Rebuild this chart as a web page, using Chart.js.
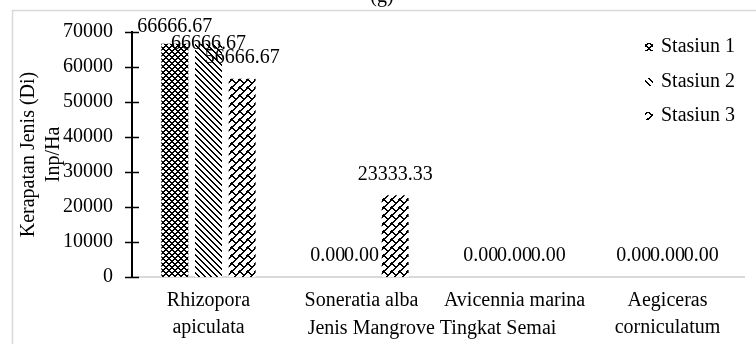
<!DOCTYPE html>
<html>
<head>
<meta charset="utf-8">
<script src="https://cdn.jsdelivr.net/npm/chart.js@4.4.1/dist/chart.umd.min.js"></script>
<style>
  html, body { margin: 0; padding: 0; background: #fff; }
</style>
</head>
<body>
<canvas id="chart_semai" width="756" height="344"></canvas>
<script>
// data
var categories = [['Rhizopora', 'apiculata'], 'Soneratia alba', 'Avicennia marina', ['Aegiceras', 'corniculatum']];
var seriesNames = ['Stasiun 1', 'Stasiun 2', 'Stasiun 3'];
var stasiun1 = [66666.67, 0, 0, 0];
var stasiun2 = [66666.67, 0, 0, 0];
var stasiun3 = [56666.67, 23333.33, 0, 0];
var yTickValues = [0, 10000, 20000, 30000, 40000, 50000, 60000, 70000];
var chartTitle = '(g)';
var xAxisTitle = 'Jenis Mangrove Tingkat Semai';
var yAxisTitle = ['Kerapatan Jenis (Di)', 'Inp/Ha'];

// how far each value label sits above its bar (excel shuffled the crowded ones)
var labelLift = [[17, 21, 21, 21], [0, 21, 21, 21], [21, 21, 21, 21]];

var FONT = 'Liberation Serif';
var canvas = document.getElementById('chart_semai');
var ctx0 = canvas.getContext('2d');

function makePattern(rows) {
    var tile = document.createElement('canvas');
    tile.width = rows[0].length;
    tile.height = rows.length;
    var g = tile.getContext('2d');
    g.fillStyle = '#fff';
    g.fillRect(0, 0, tile.width, tile.height);
    g.fillStyle = '#000';
    rows.forEach(function(r, y) {
        for (var x = 0; x < r.length; x++) {
            if (r[x] === '1') g.fillRect(x, y, 1, 1);
        }
    });
    return ctx0.createPattern(tile, 'repeat');
}

var patterns = [
    makePattern(['110000', '111001', '001111', '000110', '001111', '111001']),
    makePattern(['110000', '011000', '001100', '000110', '000011', '100001']),
    makePattern(['11000011', '01100110', '00111100', '00011000', '00110000', '01100000', '11000001', '10000011'])
];

var decorPlugin = {
    id: 'decor',
    beforeDraw: function(chart) {
        var ctx = chart.ctx;
        ctx.save();
        ctx.fillStyle = '#fff';
        ctx.fillRect(0, 0, chart.width, chart.height);
        ctx.strokeStyle = '#d9d9d9';
        ctx.lineWidth = 1.5;
        ctx.strokeRect(12.5, 10.5, chart.width + 20, chart.height + 20);
        ctx.restore();
    },
    afterDatasetsDraw: function(chart) {
        var ctx = chart.ctx;
        ctx.save();
        ctx.font = '20px "' + FONT + '"';
        ctx.fillStyle = '#000';
        ctx.textAlign = 'center';
        ctx.textBaseline = 'middle';
        chart.data.datasets.forEach(function(ds, i) {
            chart.getDatasetMeta(i).data.forEach(function(bar, j) {
                ctx.fillText(ds.data[j].toFixed(2), bar.x, bar.y - labelLift[i][j]);
            });
        });
        ctx.restore();
    },
    afterDraw: function(chart) {
        var ctx = chart.ctx;
        var area = chart.chartArea;
        var y = chart.scales.y;
        ctx.save();
        // cross ticks on the value axis
        ctx.strokeStyle = '#000';
        ctx.lineWidth = 1.5;
        yTickValues.forEach(function(v) {
            var py = Math.round(y.getPixelForValue(v)) + 0.5;
            ctx.beginPath();
            ctx.moveTo(area.left - 7, py);
            ctx.lineTo(area.left + 7, py);
            ctx.stroke();
        });

        ctx.fillStyle = '#000';
        ctx.font = '20px "' + FONT + '"';
        ctx.textAlign = 'center';
        ctx.textBaseline = 'middle';
        ctx.fillText(xAxisTitle, (area.left + area.right) / 2 - 6, area.bottom + 52);

        // rotated value axis title, two lines
        var midY = (area.top + area.bottom) / 2;
        ctx.save();
        ctx.translate(29, midY);
        ctx.rotate(-Math.PI / 2);
        ctx.fillText(yAxisTitle[0], 0, 0);
        ctx.fillText(yAxisTitle[1], 0, 25);
        ctx.restore();

        // chart title, mostly cut off at the top
        ctx.textBaseline = 'alphabetic';
        ctx.fillText(chartTitle, 382, 2);

        // legend
        ctx.textAlign = 'left';
        ctx.textBaseline = 'middle';
        seriesNames.forEach(function(name, i) {
            var cy = 47 + i * 34.5;
            ctx.fillStyle = patterns[i];
            ctx.fillRect(645, Math.round(cy) - 4, 8, 8);
            ctx.fillStyle = '#000';
            ctx.fillText(name, 661, cy);
        });
        ctx.restore();
    }
};

var chart_semai = new Chart(canvas, {
    type: 'bar',
    data: {
        labels: categories,
        datasets: [
            { label: seriesNames[0], data: stasiun1, backgroundColor: patterns[0], borderWidth: 0 },
            { label: seriesNames[1], data: stasiun2, backgroundColor: patterns[1], borderWidth: 0 },
            { label: seriesNames[2], data: stasiun3, backgroundColor: patterns[2], borderWidth: 0 }
        ]
    },
    options: {
        responsive: false,
        animation: false,
        categoryPercentage: 0.66,
        barPercentage: 0.8,
        layout: {
            padding: { top: 32, right: 12, left: 0, bottom: 0 }
        },
        plugins: {
            legend: { display: false },
            title: { display: false },
            tooltip: { enabled: false }
        },
        scales: {
            x: {
                grid: { display: false, drawTicks: false },
                border: { display: true, color: '#d9d9d9', width: 2 },
                ticks: {
                    color: '#000',
                    padding: 10,
                    maxRotation: 0,
                    autoSkip: false,
                    font: { family: FONT, size: 20, lineHeight: 1.35 }
                },
                afterFit: function(scale) { scale.height = 67; }
            },
            y: {
                min: 0,
                max: 70000,
                grid: { display: false, drawTicks: false },
                border: { display: true, color: '#000', width: 2 },
                ticks: {
                    stepSize: 10000,
                    color: '#000',
                    padding: 19,
                    font: { family: FONT, size: 20 },
                    callback: function(value) { return String(value); }
                },
                afterFit: function(scale) { scale.width = 132; }
            }
        }
    },
    plugins: [decorPlugin]
});
</script>
</body>
</html>
